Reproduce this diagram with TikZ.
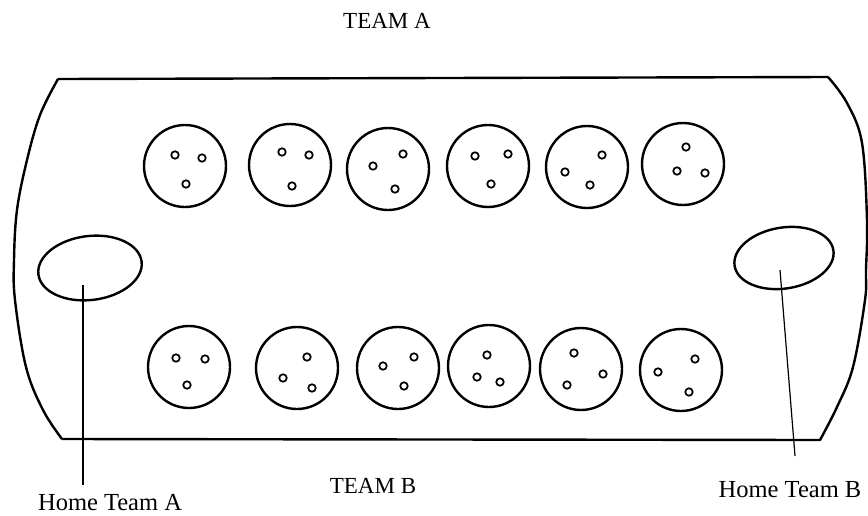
\documentclass[tikz,border=0pt]{standalone}
\usepackage{fontspec}
\setmainfont{Liberation Serif}
\usetikzlibrary{shapes.geometric}
\tikzset{
  boardline/.style={line width=2.4pt, line join=round},
  pit/.style={circle, draw, line width=2.4pt, minimum size=82pt, inner sep=0pt},
  seed/.style={circle, draw, line width=1.7pt, minimum size=7.5pt, inner sep=0pt},
  homepit/.style={ellipse, draw, line width=2.4pt, inner sep=0pt},
  leader/.style={line width=1.2pt},
  lbl/.style={font=\fontsize{23}{27}\selectfont, inner sep=0pt, anchor=base},
  hlbl/.style={font=\fontsize{24.5}{28}\selectfont, inner sep=0pt, anchor=base},
}
\begin{document}
\begin{tikzpicture}[x=1pt,y=-1pt]
\useasboundingbox (0,0) rectangle (868,515);
% board
\draw[boardline] (58,79) -- (828,77)
  plot[smooth, tension=0.6] coordinates {(828,77) (847,103) (862,143) (867,220) (866,270) (865,300) (853,367) (837,407) (820,440)}
  -- (62,439)
  plot[smooth, tension=0.6] coordinates {(62,439) (43,410) (26,367) (15,300) (14,260) (17,210) (27,160) (40,115) (58,79)};
% top row pits
\node[pit] (t1) at (185,166) {};
\node[pit] (t2) at (290,165) {};
\node[pit] (t3) at (388,169) {};
\node[pit] (t4) at (488,166) {};
\node[pit] (t5) at (587,167) {};
\node[pit] (t6) at (683,164) {};
% bottom row pits
\node[pit] (b1) at (189,367) {};
\node[pit] (b2) at (297,368) {};
\node[pit] (b3) at (398,368) {};
\node[pit] (b4) at (489,366) {};
\node[pit] (b5) at (581,369) {};
\node[pit] (b6) at (681,370) {};
% seeds
\foreach \n/\p in {t1a/{(175,155)},t1b/{(202,158)},t1c/{(186,184)},
  t2a/{(282,152)},t2b/{(309,155)},t2c/{(292,186)},
  t3a/{(373,166)},t3b/{(403,154)},t3c/{(395,189)},
  t4a/{(475,156)},t4b/{(508,154)},t4c/{(491,184)},
  t5a/{(565,172)},t5b/{(602,155)},t5c/{(590,185)},
  t6a/{(686,147)},t6b/{(677,171)},t6c/{(705,173)},
  b1a/{(176,358)},b1b/{(205,359)},b1c/{(187,385)},
  b2a/{(307,357)},b2b/{(283,378)},b2c/{(312,388)},
  b3a/{(383,366)},b3b/{(414,357)},b3c/{(404,386)},
  b4a/{(487,355)},b4b/{(477,377)},b4c/{(500,382)},
  b5a/{(574,353)},b5b/{(567,385)},b5c/{(603,374)},
  b6a/{(658,372)},b6b/{(695,359)},b6c/{(689,392)}}
  \node[seed] (\n) at \p {};
% home pits
\node[homepit, minimum width=104pt, minimum height=64pt, rotate=7] (homeA) at (90,268) {};
\node[homepit, minimum width=100pt, minimum height=61pt, rotate=9] (homeB) at (784,258) {};
% labels
\node[lbl] (teamA) at (387,28) {TEAM A};
\node[lbl] (teamB) at (373,493) {TEAM B};
\node[hlbl] (labA) at (110,510) {Home Team A};
\node[hlbl] (labB) at (790,497) {Home Team B};
% leader lines
\coordinate (la1) at (83,285);
\coordinate (la2) at (83,485);
\coordinate (lb1) at (780,270);
\coordinate (lb2) at (795,456);
\draw[leader] (la1) -- (la2);
\draw[leader] (lb1) -- (lb2);
\end{tikzpicture}
\end{document}
